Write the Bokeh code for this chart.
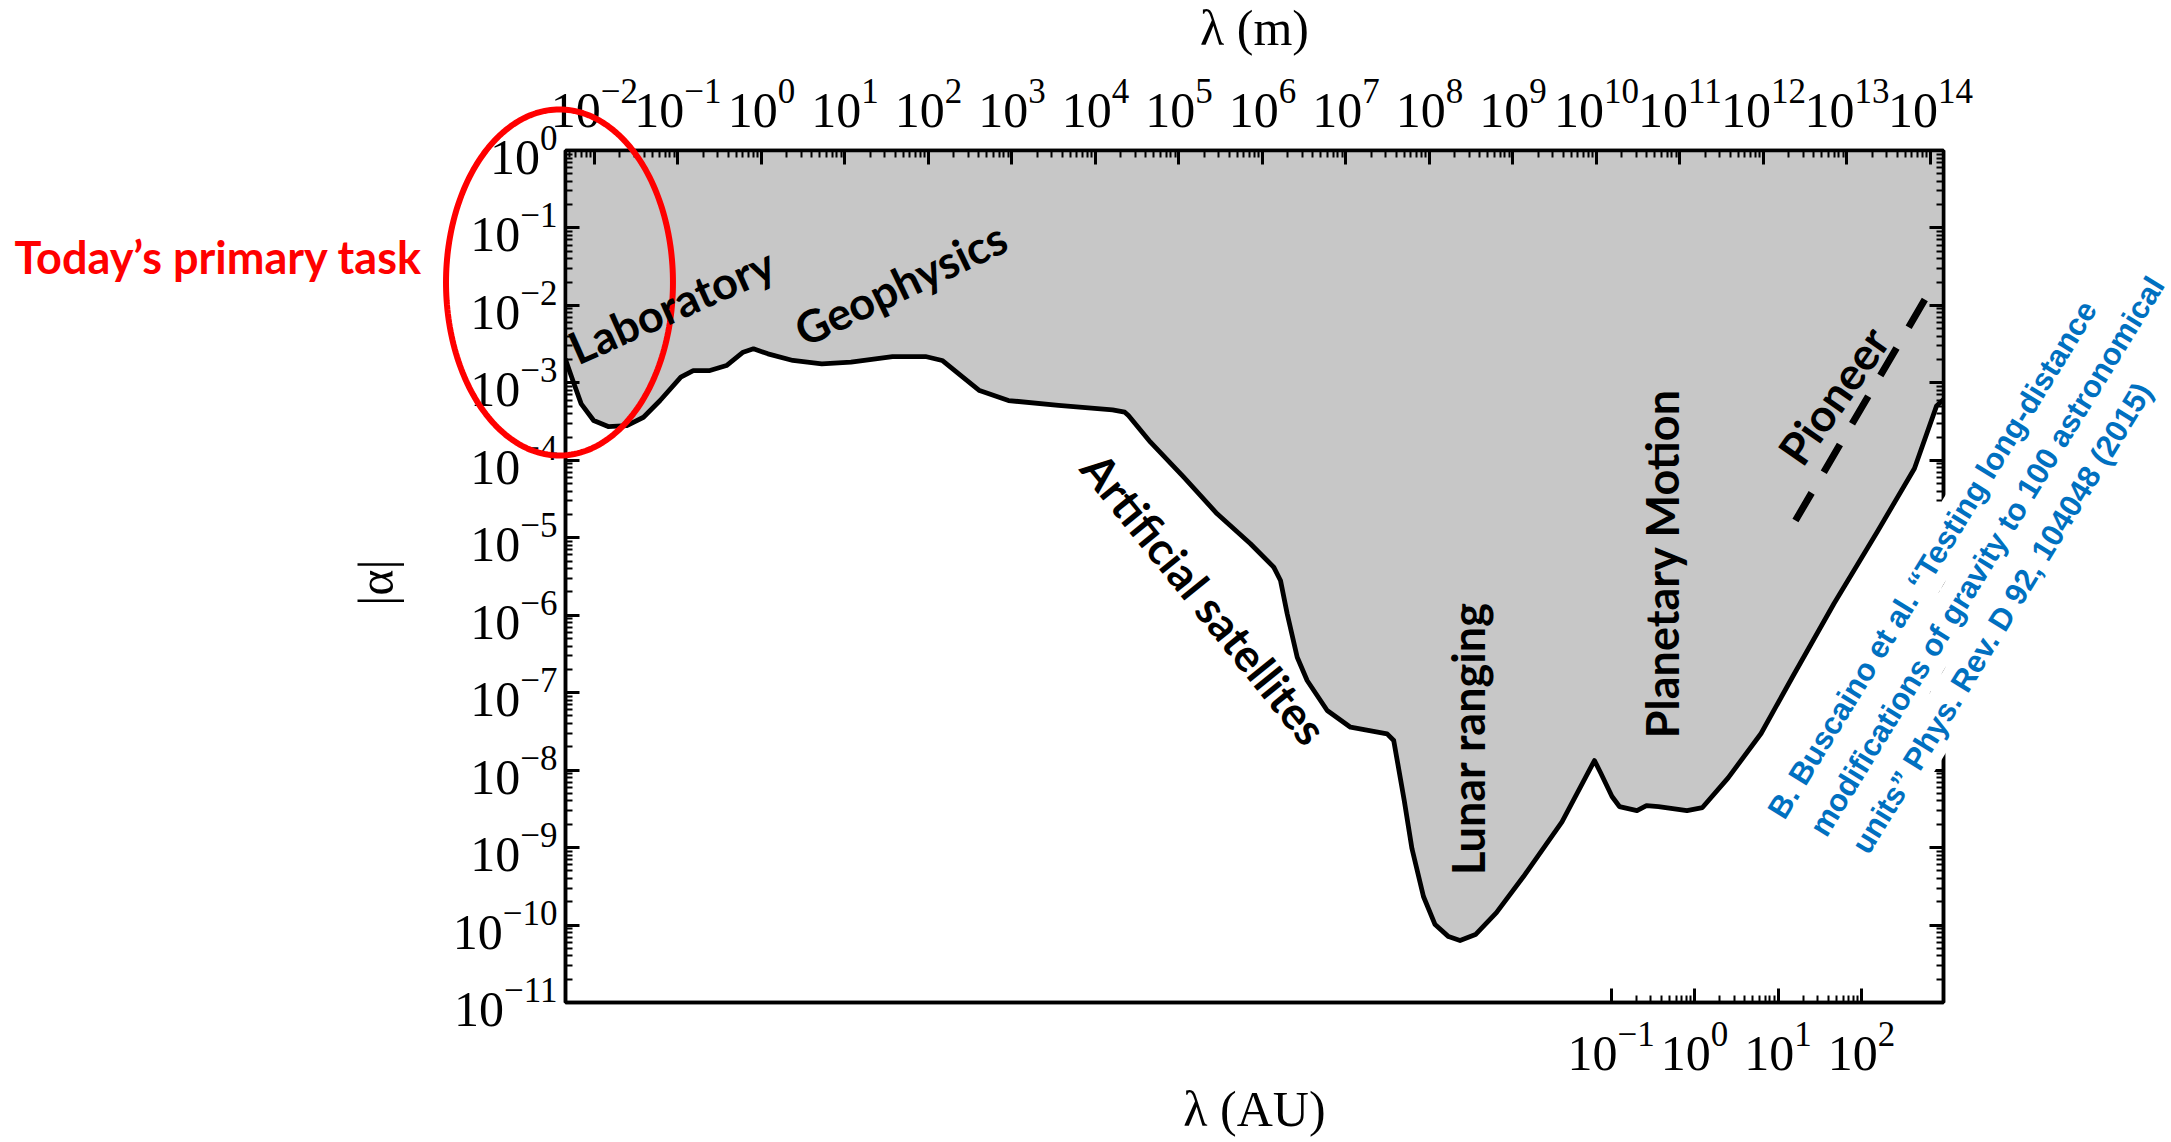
import numpy as np
from bokeh.plotting import figure
from bokeh.layouts import column
from bokeh.models import (Range1d, LogScale, LogAxis, FixedTicker,
                          CustomJSTickFormatter, Label)
from bokeh.embed import file_html
from bokeh.resources import INLINE

# ---------------- data ----------------
# exclusion boundary: log10(lambda / m) and log10(|alpha|)
lam_log_m = [-2.35, -2.259, -2.159, -2.010, -1.836, -1.612, -1.413, -1.214, -0.966, -0.817,
             -0.618, -0.419, -0.220, -0.096, 0.078, 0.376, 0.723, 1.072, 1.569, 1.964,
             2.164, 2.363, 2.611, 2.958, 3.557, 4.204, 4.351, 4.395, 4.659, 5.057,
             5.457, 5.856, 6.135, 6.216, 6.296, 6.416, 6.535, 6.775, 7.054, 7.493,
             7.572, 7.698, 7.790, 7.928, 8.067, 8.228, 8.366, 8.551, 8.802, 9.126,
             9.587, 9.976, 10.048, 10.186, 10.275, 10.485, 10.599, 10.743, 11.084, 11.269,
             11.577, 11.971, 12.359, 12.845, 13.365, 13.808, 14.072, 14.156]
alpha_log = [-2.69, -2.970, -3.271, -3.486, -3.564, -3.551, -3.444, -3.228, -2.927, -2.841,
             -2.841, -2.776, -2.604, -2.560, -2.625, -2.711, -2.754, -2.733, -2.660, -2.660,
             -2.711, -2.883, -3.099, -3.228, -3.292, -3.348, -3.379, -3.422, -3.766, -4.218,
             -4.691, -5.078, -5.380, -5.552, -5.982, -6.542, -6.843, -7.230, -7.446, -7.531,
             -7.618, -8.393, -9.012, -9.632, -9.994, -10.149, -10.200, -10.123, -9.839, -9.374,
             -8.667, -7.876, -8.031, -8.341, -8.470, -8.522, -8.457, -8.470, -8.522, -8.483,
             -8.100, -7.527, -6.775, -5.849, -4.919, -4.106, -3.300, -3.215]

# Pioneer anomaly (dashed)
pioneer_lam_log_m = [12.383, 13.940]
pioneer_alpha_log = [-4.777, -1.911]

# axis ticks
top_tick_exponents = list(range(-2, 15))          # lambda (m)
y_tick_exponents = list(range(-11, 1))            # |alpha|
au_ticks = [0.1, 1.0, 10.0, 100.0]                # lambda (AU)

region_labels = ["Laboratory", "Geophysics", "Artificial satellites",
                 "Lunar ranging", "Planetary Motion", "Pioneer"]
citation_lines = ["B. Buscaino et al.  \u201cTesting long-distance",
                  "modifications of gravity to 100 astronomical",
                  "units\u201d Phys. Rev. D 92, 104048 (2015)"]
task_text = "Today\u2019s primary task"

# ---------------- layout / style constants ----------------
W, H = 2171, 1142
FRAME_L, FRAME_R, FRAME_T, FRAME_B = 565, 1943, 150, 1002
AU_M = 1.495978707e11
XL, XH = -2.347, 14.156          # log10 extent of the frame (m)
YL, YH = -11.0, 0.0              # log10 extent of the frame (|alpha|)

x = [10 ** v for v in lam_log_m]
y = [10 ** v for v in alpha_log]

p = figure(width=W, height=H, output_backend="svg", toolbar_location=None,
           x_axis_type="log", y_axis_type="log", x_axis_location="above",
           x_range=Range1d(10 ** XL, 10 ** XH), y_range=Range1d(10 ** YL, 10 ** YH),
           min_border_left=FRAME_L, min_border_right=W - FRAME_R,
           min_border_top=FRAME_T, min_border_bottom=H - FRAME_B)
p.extra_x_ranges = {"au": Range1d(10 ** XL / AU_M, 10 ** XH / AU_M)}
p.extra_x_scales = {"au": LogScale()}
p.grid.visible = False
p.outline_line_color = "black"
p.outline_line_width = 3.5
p.background_fill_color = "white"
p.border_fill_color = "white"


def style_axis(ax):
    ax.axis_line_width = 3.5
    ax.axis_line_color = "black"
    ax.major_tick_in = 14
    ax.major_tick_out = 0
    ax.minor_tick_in = 7
    ax.minor_tick_out = 0
    ax.major_tick_line_width = 3
    ax.minor_tick_line_width = 2
    ax.major_label_text_font = "Liberation Serif"
    ax.major_label_text_font_size = "50px"
    ax.major_label_text_color = "black"


top_major = [10.0 ** k for k in top_tick_exponents]
top_minor = [m * 10.0 ** k for k in range(top_tick_exponents[0] - 1, top_tick_exponents[-1] + 1)
             for m in range(2, 10)]
y_major = [10.0 ** k for k in y_tick_exponents]
y_minor = [m * 10.0 ** k for k in y_tick_exponents[:-1] for m in range(2, 10)]
au_minor = [m * t for t in au_ticks[:-1] for m in range(2, 10)]

top = p.xaxis[0]
top.ticker = FixedTicker(ticks=top_major, minor_ticks=top_minor)
style_axis(top)
top.major_label_standoff = 24

left = p.yaxis[0]
left.ticker = FixedTicker(ticks=y_major, minor_ticks=y_minor)
style_axis(left)
left.major_label_standoff = 8

right = LogAxis(ticker=FixedTicker(ticks=y_major, minor_ticks=y_minor),
                formatter=CustomJSTickFormatter(code="return ''"))
style_axis(right)
p.add_layout(right, "right")

bottom = LogAxis(x_range_name="au", ticker=FixedTicker(ticks=au_ticks, minor_ticks=au_minor))
style_axis(bottom)
bottom.major_label_standoff = 20
p.add_layout(bottom, "below")

# ---------------- glyphs ----------------
p.varea(x=x, y1=y, y2=[10 ** YH] * len(x), fill_color="#c7c7c7")
p.line(x, y, line_color="black", line_width=4.8, line_join="round")
p.line([10 ** v for v in pioneer_lam_log_m], [10 ** v for v in pioneer_alpha_log],
       line_color="black", line_width=7, line_dash="32 24", line_cap="butt")

# ---------------- transparent overlay with the same mapping, spanning the whole canvas -------
px_x = (FRAME_R - FRAME_L) / (XH - XL)
px_y = (FRAME_B - FRAME_T) / (YH - YL)
OXL, OXH = XL - FRAME_L / px_x, XH + (W - FRAME_R) / px_x
OYL, OYH = YL - (H - FRAME_B) / px_y, YH + FRAME_T / px_y

ov = figure(width=W, height=H, output_backend="svg", toolbar_location=None,
            x_axis_type="log", y_axis_type="log",
            x_axis_location=None, y_axis_location=None,
            x_range=Range1d(10 ** OXL, 10 ** OXH), y_range=Range1d(10 ** OYL, 10 ** OYH),
            min_border_left=0, min_border_right=0, min_border_top=0, min_border_bottom=0)
ov.grid.visible = False
ov.outline_line_color = None
ov.background_fill_color = None
ov.border_fill_color = None
ov.margin = (-H, 0, 0, 0)
p.frame_align = False
ov.frame_align = False


def lab(text, lx, ly, angle_deg=0.0, font="Lato", size="45px", color="black",
        align="center", baseline="middle", style="bold", bg=None):
    lb = Label(x=10 ** lx, y=10 ** ly, text=text, angle=np.deg2rad(angle_deg),
               text_font=font, text_font_size=size, text_color=color,
               text_font_style=style, text_align=align, text_baseline=baseline)
    if bg is not None:
        lb.background_fill_color = bg
        try:
            lb.padding = 5
        except AttributeError:
            pass
    ov.add_layout(lb)


region_pos = [(-1.078, -2.001, 24.0), (1.665, -1.717, 25.5), (5.305, -5.784, -51.0),
              (8.467, -7.592, 90.0), (10.790, -5.333, 90.0), (12.838, -3.163, 55.0)]
for t, (lx, ly, a) in zip(region_labels, region_pos):
    lab(t, lx, ly, a)

cit_pos = [(12.113, -8.642), (12.616, -8.868), (13.119, -9.094)]
for t, (lx, ly) in zip(citation_lines, cit_pos):
    lab(t, lx, ly, 58.5, font="Liberation Sans", size="31px", color="#0070C0",
        align="left", baseline="alphabetic", bg="white")

lab(task_text, -8.946, -1.369, 0, size="45px", color="#ff0000", align="left")

# axis titles
lab("\u03bb (m)", 5.904, 1.588, 0, font="Liberation Serif", size="50px", style="normal")
lab("\u03bb (AU)", 5.904, -12.369, 0, font="Liberation Serif", size="50px", style="normal")
lab("|\u03b1|", -4.611, -5.578, 90, font="Liberation Serif", size="50px", style="normal")

# red ellipse highlighting the laboratory range
ELL_CX, ELL_CY, ELL_AX, ELL_AY = -2.419, -1.704, 1.359, 2.234
tt = np.linspace(0, 2 * np.pi, 241)
ex = [10 ** (ELL_CX + ELL_AX * np.cos(v)) for v in tt]
ey = [10 ** (ELL_CY + ELL_AY * np.sin(v)) for v in tt]
ov.line(ex, ey, line_color="#ff0000", line_width=6)

layout = column(p, ov)
open("out.html", "w").write(file_html(layout, INLINE))
